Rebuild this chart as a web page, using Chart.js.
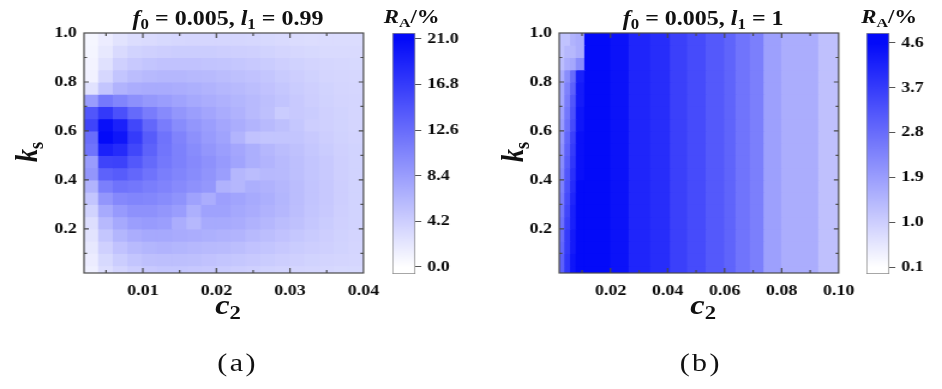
<!DOCTYPE html>
<html><head><meta charset="utf-8">
<script src="https://cdn.jsdelivr.net/npm/chart.js@4.4.0/dist/chart.umd.min.js"></script>
<style>
html,body{margin:0;padding:0;background:#fff;}
body{width:942px;height:389px;overflow:hidden;position:relative;}
#wrap{position:absolute;left:0;top:0;width:786px;height:389px;transform:scaleX(1.2);transform-origin:0 0;font-family:"Liberation Serif","Times New Roman",serif;color:#111;}
canvas{position:absolute;top:0;}
.lbl{position:absolute;white-space:nowrap;line-height:1;font-weight:bold;transform:translateX(-50%);}
.lbl i{font-style:italic;}
.lbl sub{font-size:0.7em;vertical-align:baseline;position:relative;top:0.28em;}
.rot{transform:translate(-50%,-50%) rotate(-90deg);}
.cap{position:absolute;white-space:nowrap;line-height:1;font-size:25px;font-weight:normal;letter-spacing:2px;transform:translate(-50%,-50%);}
</style></head><body>
<div id="wrap">
  <canvas id="ha" width="325" height="300" style="left:0px"></canvas>
  <canvas id="ca" width="64" height="300" style="left:327px"></canvas>
  <canvas id="hb" width="325" height="300" style="left:396px"></canvas>
  <canvas id="cb" width="64" height="300" style="left:722px"></canvas>

  <div class="lbl" style="left:190px;top:8px;font-size:20px"><i>f</i><sub>0</sub> = 0.005, <i>l</i><sub>1</sub> = 0.99</div>
  <div class="lbl" style="left:586px;top:8px;font-size:20px"><i>f</i><sub>0</sub> = 0.005, <i>l</i><sub>1</sub> = 1</div>
  <div class="lbl" style="left:343px;top:7px;font-size:19px"><i>R</i><sub>A</sub>/%</div>
  <div class="lbl" style="left:741px;top:7px;font-size:19px"><i>R</i><sub>A</sub>/%</div>
  <div class="lbl rot" style="left:23px;top:152px;font-size:26px"><i>k</i><sub>s</sub></div>
  <div class="lbl rot" style="left:428px;top:152px;font-size:26px"><i>k</i><sub>s</sub></div>
  <div class="lbl" style="left:190px;top:292px;font-size:27px"><i>c</i><sub>2</sub></div>
  <div class="lbl" style="left:586px;top:292px;font-size:27px"><i>c</i><sub>2</sub></div>
  <div class="cap" style="left:198px;top:362px">(a)</div>
  <div class="cap" style="left:584px;top:362px">(b)</div>
</div>
<script>
// ---------- data ----------
const ksRows = [0.975,0.925,0.875,0.825,0.775,0.725,0.675,0.625,0.575,0.525,0.475,0.425,0.375,0.325,0.275,0.225,0.175,0.125,0.075,0.025];
const ksTicks = [0.2,0.4,0.6,0.8,1.0];
const ksMinor = [0.1,0.3,0.5,0.7,0.9];

// panel (a): c2 cell edges, R_A values (rows top -> bottom)
const c2EdgesA = [0.002,0.004,0.006,0.008,0.010,0.012,0.014,0.016,0.018,0.020,0.022,0.024,0.026,0.028,0.030,0.032,0.034,0.036,0.038,0.040];
const RA_a = [
 [0.8,1.6,2.4,2.9,3.1,3.3,3.4,3.5,3.5,3.5,3.5,3.4,3.3,3.2,3.0,2.9,3.0,3.0,3.0],
 [0.9,2.0,3.2,3.8,4.0,4.2,4.3,4.3,4.3,4.2,4.1,4.0,3.8,3.6,3.4,3.3,3.2,3.2,3.2],
 [1.0,2.6,4.0,4.6,5.0,5.2,5.2,5.2,5.1,5.0,4.8,4.6,4.4,4.1,3.9,3.7,3.5,3.4,3.3],
 [1.2,3.4,5.0,5.7,6.0,6.2,6.2,6.0,5.9,5.7,5.4,5.2,4.9,4.5,4.2,3.9,3.6,3.5,3.4],
 [2.5,5.0,6.5,7.0,7.2,7.2,7.0,6.8,6.5,6.2,5.9,5.6,5.2,4.8,4.4,4.1,3.8,3.6,3.5],
 [8.5,11.5,10.5,9.5,8.8,8.4,7.9,7.4,7.0,6.7,6.3,5.9,5.5,5.1,4.6,4.2,3.9,3.7,3.6],
 [14.5,17.0,15.0,12.8,11.2,10.0,9.0,8.3,7.7,7.1,6.6,5.9,5.4,4.4,4.6,4.4,4.0,3.8,3.6],
 [16.0,20.5,19.0,15.8,13.0,11.2,9.9,9.0,8.3,7.6,7.0,6.4,5.9,5.4,4.8,4.2,4.0,3.8,3.6],
 [12.5,21.0,20.0,16.8,14.0,12.0,10.6,9.5,8.6,7.9,6.4,5.2,5.0,5.0,5.0,4.6,4.2,3.9,3.7],
 [12.0,19.0,18.2,15.8,13.5,11.8,10.8,9.9,9.0,8.3,7.6,6.9,6.2,5.7,5.3,4.8,4.4,4.0,3.8],
 [8.5,16.0,16.2,14.3,12.8,11.6,10.8,10.1,9.4,8.7,7.8,6.9,6.4,5.9,5.5,5.0,4.6,4.1,3.8],
 [9.0,13.5,14.0,13.0,12.0,11.1,10.5,9.9,9.2,8.3,6.2,5.7,6.0,5.9,5.5,5.0,4.6,4.1,3.8],
 [6.5,11.0,12.0,11.7,11.1,10.6,10.0,9.4,8.9,6.6,6.2,6.9,6.6,6.2,5.7,5.1,4.7,4.2,3.8],
 [5.0,9.0,10.2,10.5,10.3,9.9,9.3,8.0,7.0,8.2,7.8,7.3,6.9,6.3,5.7,5.1,4.7,4.2,3.8],
 [3.8,7.3,8.7,9.4,9.4,9.0,8.4,6.8,8.0,8.0,7.5,7.1,6.6,6.2,5.6,5.0,4.6,4.1,3.8],
 [2.8,6.0,7.4,8.3,8.6,8.3,7.0,6.1,7.3,7.3,7.1,6.6,6.2,5.7,5.3,4.8,4.4,4.0,3.8],
 [2.4,4.9,6.3,7.0,7.4,7.4,7.2,7.0,6.8,6.6,6.4,5.9,5.6,5.2,4.8,4.5,4.2,3.9,3.7],
 [2.0,4.0,5.2,5.9,6.3,6.5,6.3,6.1,5.9,5.8,5.6,5.2,5.0,4.7,4.4,4.2,4.0,3.8,3.6],
 [1.6,3.3,4.3,5.0,5.4,5.5,5.5,5.4,5.2,5.0,4.8,4.6,4.4,4.2,4.0,3.8,3.7,3.6,3.5],
 [1.3,2.8,3.6,4.2,4.6,4.8,4.8,4.7,4.6,4.4,4.2,4.0,3.8,3.7,3.6,3.5,3.4,3.3,3.3]
];
const c2TicksA = [0.01,0.02,0.03,0.04];
const c2MinorA = [0.005,0.015,0.025,0.035];
const cbTicksA = [0.0,4.2,8.4,12.6,16.8,21.0];

// panel (b): vertical bands; left strip varies with k_s
const c2EdgesB = [0.002,0.004,0.006,0.008,0.011,0.020,0.0265,0.034,0.041,0.047,0.0535,0.060,0.064,0.069,0.0738,0.080,0.093,0.100];
const RA_b_left = [
 [1.2,1.2,1.5,1.6],[1.2,1.4,1.4,1.6],[1.3,1.6,1.7,2.2],[1.6,2.2,2.8,4.2],
 [1.7,2.4,3.0,4.3],[1.7,2.5,3.2,4.3],[1.8,2.6,3.3,4.4],[1.9,2.7,3.4,4.4],
 [2.0,2.9,3.6,4.5],[2.1,3.0,3.7,4.5],[2.2,3.1,3.8,4.5],[2.3,3.2,3.9,4.5],
 [2.4,3.3,4.0,4.6],[2.5,3.4,4.1,4.6],[2.6,3.5,4.2,4.6],[2.7,3.6,4.2,4.6],
 [2.8,3.7,4.3,4.6],[2.9,3.7,4.3,4.6],[3.0,3.8,4.4,4.6],[3.0,3.8,4.4,4.6]
];
const RA_b_bands = [4.6,4.45,4.1,3.95,3.6,3.4,3.15,2.95,2.65,2.45,1.85,1.6,1.25];
const c2TicksB = [0.02,0.04,0.06,0.08,0.10];
const c2MinorB = [0.01,0.03,0.05,0.07,0.09];
const cbTicksB = [0.1,1.0,1.9,2.8,3.7,4.6];

// ---------- rendering ----------
const FONT = {family:"'Liberation Serif','Times New Roman',serif", size:15, weight:'bold'};
const TXT = '#0a0a0a';

function cmap(v, vmin, vmax){
  let t = (v - vmin) / (vmax - vmin);
  t = Math.max(0, Math.min(1, t));
  const r = Math.round(255 - 252*t), g = Math.round(255 - 245*t), b = Math.round(255 - 6*t);
  return 'rgb(' + r + ',' + g + ',' + b + ')';
}

const framePlugin = {
  id: 'frame',
  afterDatasetsDraw(chart, args, opts){
    const {ctx, chartArea:a} = chart;
    const xs = chart.scales.x, ys = chart.scales.y;
    ctx.save();
    ctx.strokeStyle = '#4a4a4a';
    ctx.lineWidth = 1.2;
    ctx.strokeRect(a.left, a.top, a.right - a.left, a.bottom - a.top);
    ctx.beginPath();
    const xt = (vals, len) => vals.forEach(v => {
      const p = xs.getPixelForValue(v);
      if (p <= a.left + 1 || p >= a.right - 1) return;
      ctx.moveTo(p, a.bottom); ctx.lineTo(p, a.bottom - len);
      ctx.moveTo(p, a.top); ctx.lineTo(p, a.top + len);
    });
    const yt = (vals, len) => vals.forEach(v => {
      const p = ys.getPixelForValue(v);
      if (p <= a.top + 1 || p >= a.bottom - 1) return;
      ctx.moveTo(a.left, p); ctx.lineTo(a.left + len, p);
      ctx.moveTo(a.right, p); ctx.lineTo(a.right - len, p);
    });
    xt(opts.xMajor, 5); xt(opts.xMinor, 3);
    yt(opts.yMajor, 4); yt(opts.yMinor, 2.5);
    ctx.stroke();
    ctx.restore();
  }
};

function heatChart(id, edges, grid, vmin, vmax, xmin, xmax, xTicks, xMinor, xDec){
  const datasets = ksRows.map((ks, i) => ({
    data: grid[i].map((v, j) => ({y: ks, x: [edges[j], edges[j+1]], v: v})),
    backgroundColor: grid[i].map(v => cmap(v, vmin, vmax)),
    borderWidth: 0,
    grouped: false,
    barPercentage: 1,
    categoryPercentage: 1,
    inflateAmount: 0.5
  }));
  new Chart(document.getElementById(id), {
    type: 'bar',
    data: {datasets},
    options: {
      indexAxis: 'y',
      responsive: false,
      animation: false,
      events: [],
      layout: {padding: {top: 33, right: 14, left: 0, bottom: 0}},
      plugins: {
        legend: {display: false}, tooltip: {enabled: false},
        frame: {xMajor: xTicks, xMinor: xMinor, yMajor: ksTicks, yMinor: ksMinor}
      },
      scales: {
        x: {
          type: 'linear', min: xmin, max: xmax, offset: false,
          afterBuildTicks: s => { s.ticks = xTicks.map(v => ({value: v})); },
          ticks: {font: FONT, color: TXT, padding: 9, maxRotation: 0, autoSkip: false,
                  callback: v => Number(v).toFixed(xDec)},
          grid: {display: false, drawTicks: false, offset: false}, border: {display: false},
          afterFit: s => { s.height = 27; }
        },
        y: {
          type: 'linear', min: 0.02, max: 1.0, offset: false,
          afterBuildTicks: s => { s.ticks = ksTicks.map(v => ({value: v})); },
          ticks: {font: FONT, color: TXT, padding: 6, autoSkip: false,
                  callback: v => Number(v).toFixed(1)},
          grid: {display: false, drawTicks: false, offset: false}, border: {display: false},
          afterFit: s => { s.width = 70; }
        }
      }
    },
    plugins: [framePlugin]
  });
}

function colorBar(id, vmin, vmax, smin, smax, ticks){
  new Chart(document.getElementById(id), {
    type: 'bar',
    data: {labels: ['R'], datasets: [{
      data: [[smin, smax]],
      backgroundColor: (ctx) => {
        const c = ctx.chart;
        if (!c.chartArea) return '#ffffff';
        const y = c.scales.y;
        const g = c.ctx.createLinearGradient(0, y.getPixelForValue(vmin), 0, y.getPixelForValue(vmax));
        for (let k = 0; k <= 10; k++) g.addColorStop(k/10, cmap(vmin + (vmax - vmin)*k/10, vmin, vmax));
        return g;
      },
      borderColor: '#8a8a8a', borderWidth: 1, borderSkipped: false,
      barPercentage: 1, categoryPercentage: 1
    }]},
    options: {
      responsive: false, animation: false, events: [],
      layout: {padding: {top: 33, bottom: 26, left: 0, right: 0}},
      plugins: {legend: {display: false}, tooltip: {enabled: false}},
      scales: {
        x: {display: false},
        y: {
          position: 'right', min: smin, max: smax,
          afterBuildTicks: s => { s.ticks = ticks.map(v => ({value: v})); },
          ticks: {font: FONT, color: TXT, padding: 5, autoSkip: false,
                  callback: v => Number(v).toFixed(1)},
          grid: {drawOnChartArea: false, drawTicks: true, tickLength: 5, color: '#555', lineWidth: 1},
          border: {display: false},
          afterFit: s => { s.width = 45; }
        }
      }
    }
  });
}

const gridB = RA_b_left.map(row => row.concat(RA_b_bands));

heatChart('ha', c2EdgesA, RA_a, 0.0, 21.0, 0.002, 0.04, c2TicksA, c2MinorA, 2);
colorBar('ca', 0.0, 21.0, -0.645, 21.55, cbTicksA);
heatChart('hb', c2EdgesB, gridB, 0.1, 4.6, 0.002, 0.10, c2TicksB, c2MinorB, 2);
colorBar('cb', 0.1, 4.6, -0.04, 4.80, cbTicksB);
</script>
</body></html>
